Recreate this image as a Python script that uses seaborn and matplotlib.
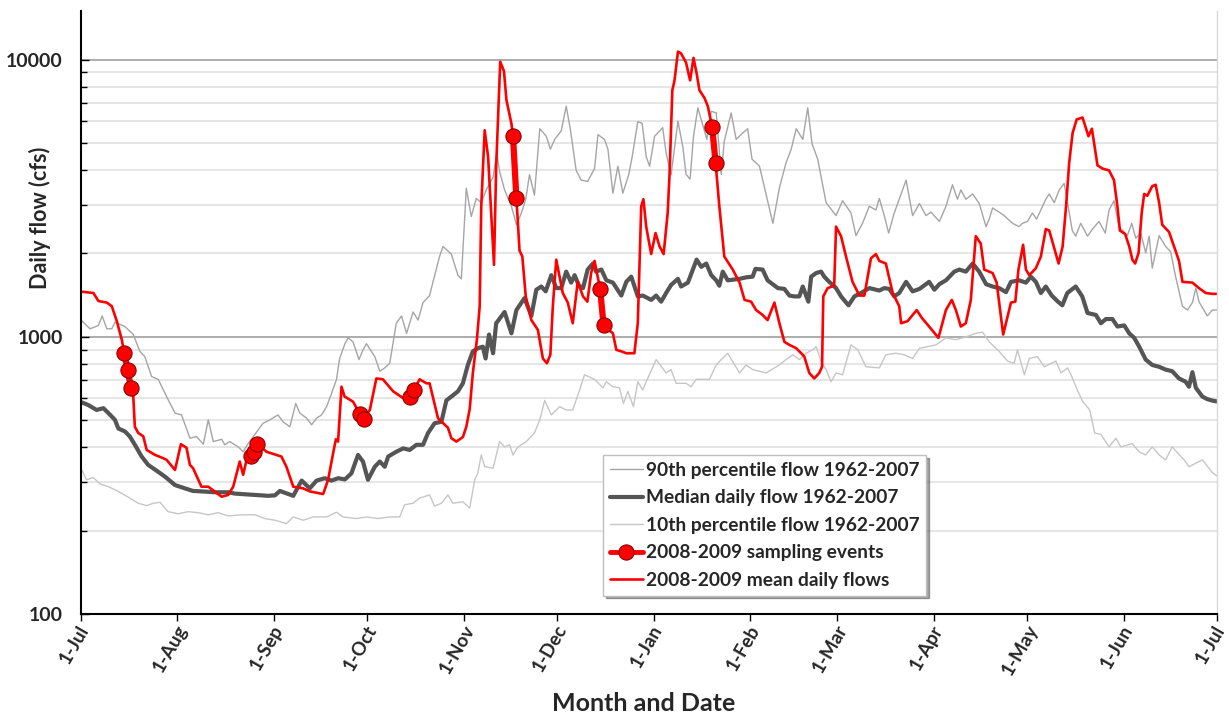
import numpy as np
import pandas as pd
import matplotlib
matplotlib.use("Agg")
import matplotlib.pyplot as plt
import matplotlib.transforms as mtransforms
import seaborn as sns
from matplotlib.lines import Line2D
from matplotlib.ticker import FixedLocator, FuncFormatter, NullFormatter

# ---------------- data (day offset from 1-Jul, flow in cfs) ----------------
month_labels = ["1-Jul", "1-Aug", "1-Sep", "1-Oct", "1-Nov", "1-Dec", "1-Jan",
                "1-Feb", "1-Mar", "1-Apr", "1-May", "1-Jun", "1-Jul"]
month_lengths = [31, 31, 30, 31, 30, 31, 31, 28, 31, 30, 31, 30]

median_flow = [
    (0, 582), (2.3, 568), (5, 545), (7.2, 553), (8.8, 531), (10.9, 502), (12, 467), (14.1, 456),
    (15.7, 437), (17.3, 408), (19.5, 370), (21.6, 345), (24.3, 329), (27, 313), (30.2, 292),
    (33.4, 284), (36, 278), (38.7, 277), (43, 275), (47.3, 275), (49.4, 272), (51.6, 271),
    (55.9, 269), (60.1, 267), (62.3, 268), (63.9, 278), (68.2, 267), (70.9, 303), (73.5, 284),
    (75.7, 303), (78.3, 309), (80.5, 303), (82.6, 309), (84.8, 306), (86.9, 322), (89, 375),
    (90.6, 355), (92.2, 305), (94.4, 340), (96, 355), (97.6, 340), (98.7, 370), (101.3, 385),
    (103.5, 396), (105.6, 391), (107.8, 408), (109.9, 408), (111.5, 450), (113.6, 488),
    (115.8, 494), (117.4, 590), (119, 609), (121.1, 636), (122.7, 680), (124.3, 792),
    (125.9, 887), (127.5, 910), (129.1, 922), (130, 836), (131.1, 1020), (132.4, 873),
    (133.4, 1120), (136.1, 1230), (138.3, 1030), (139.9, 1250), (142.5, 1380), (144.7, 1190),
    (146.3, 1480), (147.9, 1520), (149.3, 1460), (151.1, 1670), (152.7, 1500), (154.3, 1500),
    (155.9, 1720), (157.5, 1570), (158.6, 1670), (160, 1530), (161.3, 1500), (162.8, 1750),
    (164.5, 1840), (165.5, 1720), (167.2, 1750), (168.8, 1600), (170.9, 1570), (173.6, 1410),
    (175.2, 1580), (176.8, 1650), (178.9, 1400), (180.5, 1410), (183.2, 1360), (184.8, 1410),
    (186.4, 1340), (188, 1440), (189.6, 1540), (191.8, 1620), (192.8, 1520), (195, 1570),
    (196.6, 1750), (197.8, 1900), (199.3, 1790), (200.9, 1840), (202.5, 1670), (204.1, 1600),
    (205.1, 1530), (206.2, 1720), (207.8, 1600), (211.6, 1620), (213.7, 1640), (215.8, 1650),
    (216.7, 1760), (219, 1750), (220.6, 1600), (223.9, 1500), (226, 1490), (227.6, 1410),
    (229.2, 1400), (230.8, 1400), (231.9, 1520), (233.7, 1340), (234.6, 1650), (236.2, 1700),
    (237.8, 1720), (238.8, 1650), (240.4, 1580), (242.6, 1500), (244.2, 1400), (246.6, 1300),
    (248.5, 1400), (250.6, 1440), (253.3, 1500), (256.5, 1470), (258.1, 1500), (259.7, 1490),
    (261.3, 1400), (262.9, 1440), (265.1, 1580), (267.2, 1460), (269.4, 1490), (272.5, 1580),
    (274.2, 1480), (275.8, 1550), (277.9, 1600), (280.6, 1720), (282.2, 1750), (284.3, 1720),
    (286.5, 1840), (288.6, 1720), (290.8, 1550), (292.9, 1520), (295, 1500), (297.2, 1450),
    (298.8, 1580), (301.4, 1600), (303.6, 1570), (305.2, 1650), (306.8, 1580), (308.4, 1440),
    (310, 1520), (311.9, 1410), (313.9, 1340), (315.3, 1300), (316.9, 1440), (319.6, 1520),
    (321.7, 1400), (323.4, 1220), (326.1, 1200), (327.7, 1120), (329.3, 1160), (331.4, 1160),
    (333, 1090), (335.2, 1100), (336.8, 1030), (338.4, 992), (340, 922), (342.1, 828),
    (344.2, 792), (346.4, 780), (348.5, 762), (350.6, 752), (352.8, 708), (354.9, 689),
    (356, 661), (357.1, 746), (358.2, 655), (360.3, 609), (361.9, 596), (363.5, 589), (365, 585),
]

p90_flow = [
    (0, 1150), (2.9, 1070), (5.6, 1100), (6.8, 1190), (8.3, 1070), (9.9, 1070), (10.9, 1130),
    (14.1, 1090), (16.8, 1020), (18.9, 887), (20.5, 849), (22.7, 719), (24.8, 703), (27.5, 609),
    (30.2, 531), (32.3, 523), (35, 431), (37.1, 437), (39.3, 410), (40.9, 502), (42.5, 419),
    (45.2, 427), (46.2, 408), (47.8, 419), (50.5, 401), (52.1, 385), (53.7, 412), (58.5, 488),
    (60.7, 502), (63.3, 523), (64.9, 494), (67.1, 474), (69, 575), (70.3, 531), (72.5, 509),
    (74.1, 482), (75.7, 509), (77.3, 523), (78.9, 560), (80.5, 625), (82.1, 703), (83.1, 836),
    (84.8, 945), (85.8, 992), (87.4, 960), (89.3, 828), (90.6, 897), (91.7, 945), (94.4, 849),
    (96, 752), (97.6, 773), (99.2, 803), (101.3, 1120), (103, 1190), (104.6, 1030), (106.7, 1230),
    (108.3, 1150), (109.9, 1330), (112, 1410), (113.1, 1580), (115.2, 1950), (116.3, 2120),
    (119, 1990), (121.1, 1670), (122.2, 1620), (123.8, 3440), (125.4, 2720), (127, 3160),
    (128.6, 3050), (130.2, 3390), (131.3, 3580), (132.4, 3770), (133.6, 4600), (134.5, 3950),
    (136.1, 3390), (138.3, 2960), (139.9, 2540), (141.5, 2800), (142.9, 3140), (144.1, 3850),
    (145.7, 3250), (147.4, 5640), (149.5, 5300), (150.8, 4760), (152.2, 5160), (154.3, 5540),
    (155.9, 6800), (157.2, 5640), (159.1, 3990), (160.7, 3680), (162.8, 3640), (165, 4050),
    (166.1, 5370), (168.2, 5160), (169.3, 4760), (170.9, 3300), (172.5, 4130), (174.1, 3300),
    (176, 3860), (177.1, 4470), (178.9, 5980), (180.3, 5900), (181.6, 4470), (182.7, 4130),
    (184.3, 5300), (186.9, 5690), (188, 4600), (189.6, 3850), (191.8, 6010), (193.4, 4830),
    (194.4, 3860), (195.7, 3710), (196.8, 5300), (198.2, 6710), (199.8, 5800), (201.1, 5160),
    (202.5, 6520), (204.1, 6430), (205.7, 3860), (206.7, 5090), (208.9, 6430), (210.5, 5160),
    (212.6, 5440), (214.2, 5640), (215.6, 4380), (218, 4130), (220.1, 3280), (222.3, 2570),
    (224.4, 3450), (226.5, 4240), (228.2, 4760), (229.8, 5640), (231.9, 5160), (233.5, 6710),
    (234.9, 4970), (236.7, 4380), (239.4, 3050), (242.6, 2740), (244.7, 3100), (247.4, 2800),
    (249, 2320), (251.1, 2570), (253.3, 2960), (255.4, 2870), (256.5, 3160), (258.1, 2740),
    (259.5, 2370), (261.3, 2800), (262.9, 3140), (265.1, 3680), (267.2, 2740), (269.4, 3030),
    (271.5, 2740), (273.1, 2820), (275.8, 2610), (277.9, 2960), (280, 3540), (281.6, 3140),
    (282.7, 3390), (284.3, 3140), (286.5, 3280), (288.6, 3030), (290.8, 2500), (291.8, 2660),
    (292.9, 2920), (295, 2820), (296.6, 2740), (299.3, 2570), (301.4, 2500), (302.5, 2570),
    (304.1, 2610), (305.7, 2800), (307, 2660), (308.4, 2870), (310, 3140), (311.1, 3280),
    (312.7, 3050), (314.3, 3390), (315.9, 3580), (318.5, 2420), (319.6, 2310), (321.2, 2570),
    (323.4, 2310), (325, 2450), (327.1, 2610), (329.1, 2370), (330.3, 2870), (331.9, 3100),
    (333.5, 2500), (336.2, 2320), (337.6, 2570), (338.9, 2270), (340.5, 2370), (342.1, 2010),
    (343.2, 2310), (344.2, 1770), (346.4, 2320), (348.5, 2120), (350.1, 2030), (351.7, 1650),
    (353.9, 1290), (355.5, 1250), (357.1, 1330), (358.2, 1500), (359.2, 1340), (361.9, 1190),
    (363.5, 1250), (365, 1250),
]

p10_flow = [
    (0, 336), (1.8, 305), (3.9, 311), (6.1, 295), (8.8, 288), (12, 277), (15.2, 264), (18.4, 251),
    (21.1, 246), (23.2, 251), (25.4, 253), (28, 234), (31.2, 230), (34.4, 234), (37.7, 232),
    (40.9, 228), (44.1, 232), (47.3, 226), (51.6, 228), (55.9, 228), (59.1, 221), (62.3, 218),
    (66, 212), (68.2, 224), (71.4, 218), (74.6, 224), (78.9, 224), (82.1, 233), (84.2, 224),
    (88.5, 221), (91.7, 224), (95.4, 221), (99.2, 224), (102.4, 224), (104, 248), (106.7, 251),
    (108.8, 262), (112, 269), (113.6, 245), (115.8, 251), (117.9, 269), (119.5, 251),
    (122.7, 254), (124.9, 241), (126.5, 305), (127.5, 322), (128.6, 375), (129.7, 340),
    (132.4, 336), (134.5, 419), (136.1, 401), (137.7, 408), (138.8, 375), (140.4, 401),
    (143.1, 419), (145.7, 450), (147.4, 502), (149, 590), (151.1, 523), (153.8, 560),
    (155.9, 545), (158, 545), (160.2, 643), (161.8, 730), (165, 703), (167.7, 655), (168.8, 689),
    (170.9, 661), (173, 655), (174.3, 575), (175.7, 636), (177.5, 560), (178.9, 689),
    (180.5, 643), (181.6, 689), (184.8, 828), (188, 741), (189.6, 762), (191.2, 680),
    (194.4, 680), (196, 661), (197.7, 703), (201.9, 703), (204.1, 792), (205.7, 828),
    (207.8, 873), (211.6, 741), (213.7, 792), (215.8, 762), (220.1, 741), (224.4, 792),
    (226.5, 828), (228.7, 862), (230.8, 828), (232.9, 873), (235.1, 898), (236.2, 922),
    (237.8, 818), (239.4, 762), (241, 689), (242.6, 741), (244.7, 730), (247.4, 936),
    (249.6, 898), (252.2, 780), (256.5, 773), (258.6, 862), (261.8, 873), (264.5, 862),
    (267.2, 836), (269.4, 910), (272, 922), (274.7, 936), (277.9, 992), (281.1, 977),
    (284.3, 1000), (287.5, 1030), (289.7, 1040), (291.8, 960), (295, 887), (297.7, 818),
    (299.8, 803), (300.9, 898), (303.1, 730), (304.7, 836), (307.3, 849), (309.5, 780),
    (313.2, 818), (314.9, 741), (317, 773), (318.1, 730), (320.3, 636), (321.9, 584),
    (324.1, 545), (325.7, 450), (327.7, 445), (330.3, 401), (332.5, 431), (334.1, 401),
    (337.8, 412), (340, 385), (342.1, 375), (344.2, 401), (346.4, 375), (348.5, 360),
    (350.6, 401), (354.4, 360), (356, 340), (360.3, 360), (363.5, 324), (365, 315),
]

mean_flow_0809 = [
    (0, 1457), (4, 1440), (5.6, 1347), (8.3, 1330), (9.9, 1290), (11.5, 1140), (13.1, 977),
    (13.9, 873), (15, 762), (16, 655), (16.8, 609), (17.3, 474), (18.4, 450), (20, 438),
    (21.1, 391), (23.8, 375), (26.4, 365), (27.5, 360), (30.2, 331), (32.1, 410), (33.9, 398),
    (35, 345), (36, 336), (38.7, 288), (40.9, 288), (45.2, 265), (47.3, 269), (48.9, 288),
    (51, 355), (52.1, 318), (53.2, 360), (54.5, 372), (55.5, 385), (56.5, 412), (59.6, 385),
    (64.4, 370), (66, 340), (68.2, 288), (71.4, 284), (73.5, 277), (77.8, 271), (79.4, 305),
    (81, 380), (81.9, 427), (82.6, 419), (83.7, 661), (84.7, 609), (87.4, 584), (89.6, 527),
    (90.8, 507), (92.8, 545), (94.9, 708), (97, 703), (100.3, 636), (104.6, 590), (105.6, 609),
    (106.9, 643), (108.8, 703), (111, 680), (112, 680), (114.7, 509), (117.9, 470), (119, 431),
    (120.6, 419), (122.7, 435), (123.8, 474), (124.9, 550), (125.9, 741), (127.2, 977),
    (128.1, 1290), (128.6, 2960), (129.7, 5570), (130.8, 4470), (131.8, 2800), (132.7, 1820),
    (133.4, 4130), (134.7, 9840), (135.9, 9100), (136.7, 7150), (138.3, 5880), (138.8, 5300),
    (139.9, 3160), (140.9, 2050), (141.8, 1950), (142.9, 1400), (144.7, 1150), (146.8, 1060),
    (148.4, 836), (149.7, 803), (150.8, 862), (151.6, 1290), (152.7, 1900), (154, 1600),
    (154.8, 1440), (156.4, 1330), (158, 1120), (159.6, 1580), (161.3, 1400), (162.7, 1340),
    (163.9, 1700), (165, 1880), (166.8, 1490), (167.9, 1100), (170.9, 1030), (172, 898),
    (173.6, 887), (175.2, 873), (177.8, 873), (178.9, 1120), (180, 2960), (180.7, 3140),
    (181.6, 2500), (183.2, 1990), (184.6, 2370), (185.9, 2120), (187.2, 1990), (188.5, 2800),
    (189.1, 3860), (190, 7770), (190.7, 8430), (191.8, 10700), (192.8, 10550), (194.4, 9770),
    (195.7, 8430), (196.8, 10160), (197.8, 8940), (198.7, 7770), (200.3, 7290), (201.4, 6800),
    (202.8, 5710), (203.9, 4240), (205.1, 2960), (206.7, 1950), (209.4, 1750), (211.6, 1570),
    (213.2, 1360), (215.3, 1340), (216.9, 1250), (219, 1200), (220.6, 1150), (222.8, 1330),
    (224.4, 1120), (226, 960), (227.6, 936), (229.8, 910), (231.4, 873), (232.4, 849),
    (234, 741), (235.6, 708), (237.2, 741), (238.1, 780), (238.5, 1400), (239.9, 1500),
    (242, 1530), (242.6, 2500), (244.2, 2310), (245.8, 1950), (247.9, 1580), (250.1, 1410),
    (251.7, 1410), (253.8, 1920), (255.4, 1990), (256.5, 1880), (258.6, 1840), (260.8, 1440),
    (262.9, 1290), (263.5, 1120), (265.6, 1140), (268.5, 1250), (270.2, 1170), (272.5, 1090),
    (275.5, 992), (277.9, 1250), (279.8, 1360), (281.1, 1250), (282.7, 1090), (284.3, 1120),
    (285.9, 1360), (287.5, 2310), (289.1, 2170), (290.2, 1750), (292.9, 1700), (294.2, 1570),
    (296.3, 1020), (298.8, 1330), (300.2, 1340), (301.2, 1750), (302.7, 2150), (303.6, 1750),
    (304.7, 1670), (306.8, 1770), (308.4, 1950), (310, 2450), (311.1, 2420), (314.1, 1840),
    (315.4, 2120), (316.5, 2960), (317.5, 4240), (318.6, 5440), (319.9, 6090), (321.8, 6190),
    (323.7, 5300), (324.8, 5640), (326.6, 4160), (328.2, 4050), (330.3, 3990), (331.9, 3680),
    (333, 2960), (333.8, 2420), (335.5, 2350), (336.8, 2120), (337.8, 1900), (338.7, 1840),
    (339.8, 2010), (340.8, 2800), (341.6, 3280), (342.6, 3230), (344.2, 3500), (345.3, 3540),
    (346.4, 3050), (347.4, 2540), (349.6, 2390), (351.2, 2120), (352.8, 1880), (353.9, 1580),
    (357.1, 1570), (359.2, 1500), (361.4, 1440), (363.5, 1430), (365, 1430),
]

sample_event = [1, 1, 1, 2, 2, 2, 3, 3, 4, 4, 5, 5, 6, 6, 7, 7]
sample_day = [13.9, 15, 16, 54.5, 55.5, 56.5, 89.6, 90.8, 105.6, 106.9, 138.8, 139.9,
              166.8, 167.9, 202.8, 203.9]
sample_flow = [873, 762, 655, 372, 385, 412, 527, 507, 609, 643, 5300, 3160,
               1490, 1100, 5710, 4240]

labels = ["90th percentile flow 1962-2007", "Median daily flow 1962-2007",
          "10th percentile flow 1962-2007", "2008-2009 sampling events",
          "2008-2009 mean daily flows"]


def frame(pairs):
    d, v = zip(*pairs)
    return pd.DataFrame({"day": d, "flow": v})


# ---------------- figure ----------------
sns.set_theme(style="white")
plt.rcParams["font.family"] = ["Lato", "DejaVu Sans"]
plt.rcParams["font.weight"] = "bold"

fig = plt.figure(figsize=(12.29, 7.14), dpi=100)
ax = fig.add_axes([81 / 1229, 1 - 614 / 714, 1136 / 1229, 603 / 714])
ax.set_yscale("log")

c90, c10, cmed, cred = "#a5a5a5", "#c6c6c6", "#555555", "#ff0000"

sns.lineplot(data=frame(p10_flow), x="day", y="flow", ax=ax, color=c10, lw=1.0,
             estimator=None, legend=False)
sns.lineplot(data=frame(p90_flow), x="day", y="flow", ax=ax, color=c90, lw=1.0,
             estimator=None, legend=False)
sns.lineplot(data=frame(median_flow), x="day", y="flow", ax=ax, color=cmed, lw=3.0,
             estimator=None, legend=False)
sns.lineplot(data=frame(mean_flow_0809), x="day", y="flow", ax=ax, color=cred, lw=1.9,
             estimator=None, legend=False)
samp = pd.DataFrame({"day": sample_day, "flow": sample_flow, "event": sample_event})
sns.lineplot(data=samp, x="day", y="flow", units="event", estimator=None, ax=ax,
             color=cred, lw=4.5, marker="o", markersize=11, markeredgecolor="#7a0000",
             markeredgewidth=0.7, legend=False)

# axes limits and ticks
month_ticks = np.concatenate([[0], np.cumsum(month_lengths)])
ax.set_xlim(month_ticks[0], month_ticks[-1])
ax.set_ylim(100, 15000)
ax.set_xticks(month_ticks)
ax.set_xticklabels([])
# month labels drawn at the tick positions, slightly left of each tick (as in the source)
lab_trans = mtransforms.blended_transform_factory(ax.transData, ax.transAxes) + \
    mtransforms.ScaledTranslation(-7 / 100, -8 / 100, fig.dpi_scale_trans)
for xpos, lab in zip(month_ticks, month_labels):
    ax.text(xpos, 0, lab, transform=lab_trans, rotation=60, ha="center", va="top",
            fontsize=13.5, fontweight="bold", clip_on=False)

ax.yaxis.set_major_locator(FixedLocator([100, 1000, 10000]))
ax.yaxis.set_major_formatter(FuncFormatter(lambda v, p: f"{int(round(v))}"))
minor = [m * 10 ** e for e in (2, 3) for m in range(2, 10)]
ax.yaxis.set_minor_locator(FixedLocator(minor))
ax.yaxis.set_minor_formatter(NullFormatter())
for t in ax.get_yticklabels():
    t.set_fontweight("bold")
    t.set_fontsize(14)

ax.tick_params(axis="x", which="major", direction="out", length=5, width=1, color="black",
               bottom=True, pad=2)
ax.tick_params(axis="y", which="major", direction="in", length=6, width=1, color="black",
               left=True, pad=13)
ax.tick_params(axis="y", which="minor", direction="in", length=4, width=1, color="black",
               left=True)

ax.grid(False)
ax.yaxis.grid(True, which="major", color="#a6a6a6", lw=1.3)
ax.yaxis.grid(True, which="minor", color="#e4e4e4", lw=1.3)
ax.set_axisbelow(True)

for s in ["left", "bottom"]:
    ax.spines[s].set_color("black")
    ax.spines[s].set_linewidth(1.5)
ax.spines["top"].set_visible(False)
ax.spines["right"].set_color("#d9d9d9")
ax.spines["right"].set_linewidth(1.0)

ax.set_ylabel("Daily flow (cfs)", fontsize=15.5, fontweight="bold")
ax.yaxis.set_label_coords(-0.026, 0.657)
ax.set_xlabel("Month and Date", fontsize=18, fontweight="bold")
ax.xaxis.set_label_coords(0.495, -0.13)

handles = [
    Line2D([], [], color=c90, lw=1.0),
    Line2D([], [], color=cmed, lw=3.0),
    Line2D([], [], color=c10, lw=1.0),
    Line2D([], [], color=cred, lw=3.5, marker="o", markersize=11,
           markeredgecolor="#7a0000", markeredgewidth=0.7),
    Line2D([], [], color=cred, lw=1.9),
]
leg = ax.legend(handles, labels, loc="upper left", bbox_to_anchor=(0.4595, 0.2637),
                prop={"weight": "bold", "size": 13.8}, frameon=True, fancybox=False,
                shadow=True, edgecolor="#bfbfbf", borderpad=0.35, labelspacing=0.55,
                handlelength=1.75, handletextpad=0.15, borderaxespad=0)
leg.get_frame().set_linewidth(1.0)

fig.savefig("out.png", dpi=100)
